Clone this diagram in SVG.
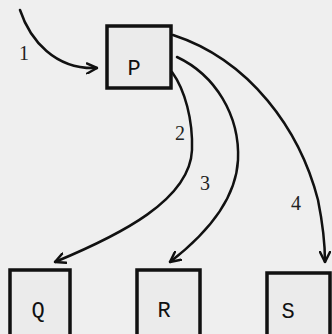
<svg xmlns="http://www.w3.org/2000/svg" width="332" height="334" viewBox="0 0 332 334">
<style>
.box{fill:#ebebeb;stroke:#111;stroke-width:3.5}
.edge{fill:none;stroke:#111;stroke-width:2.5;stroke-linecap:round}
.lbl{font-family:"Liberation Mono",monospace;font-size:22px;fill:#111;text-anchor:middle}
.num{font-family:"Liberation Serif",serif;font-size:20px;fill:#222;text-anchor:middle}
</style>
<defs>
<marker id="ah" viewBox="0 0 12 12" refX="11" refY="6" markerWidth="12" markerHeight="12" markerUnits="userSpaceOnUse" orient="auto">
<path d="M1,1 L11,6 L1,11" fill="none" stroke="#111" stroke-width="2.5" stroke-linecap="round" stroke-linejoin="round"/>
</marker>
</defs>
<rect width="332" height="334" fill="#efefef"/>
<g id="connectors">
<path class="edge" d="M20,10 C30,40 55,70 97,68" marker-end="url(#ah)"/>
<path class="edge" d="M172,72 C185,90 193,120 192,150 C190,200 120,235 55,262" marker-end="url(#ah)"/>
<path class="edge" d="M177,57 C215,75 240,115 238,160 C236,200 205,235 170,262" marker-end="url(#ah)"/>
<path class="edge" d="M173,35 C250,60 300,130 318,200 C322,220 325,240 325,262" marker-end="url(#ah)"/>
<text class="num" x="24" y="60">1</text>
<text class="num" x="180" y="140">2</text>
<text class="num" x="205" y="190">3</text>
<text class="num" x="296" y="210">4</text>
</g>
<g id="P"><rect class="box" x="107" y="26" width="64" height="62"/><text class="lbl" x="134" y="75">P</text></g>
<g id="Q"><rect class="box" x="10" y="270" width="60" height="70"/><text class="lbl" x="38" y="317">Q</text></g>
<g id="R"><rect class="box" x="137" y="270" width="63" height="70"/><text class="lbl" x="164" y="317">R</text></g>
<g id="S"><rect class="box" x="267" y="273" width="63" height="70"/><text class="lbl" x="288" y="318">S</text></g>
</svg>
